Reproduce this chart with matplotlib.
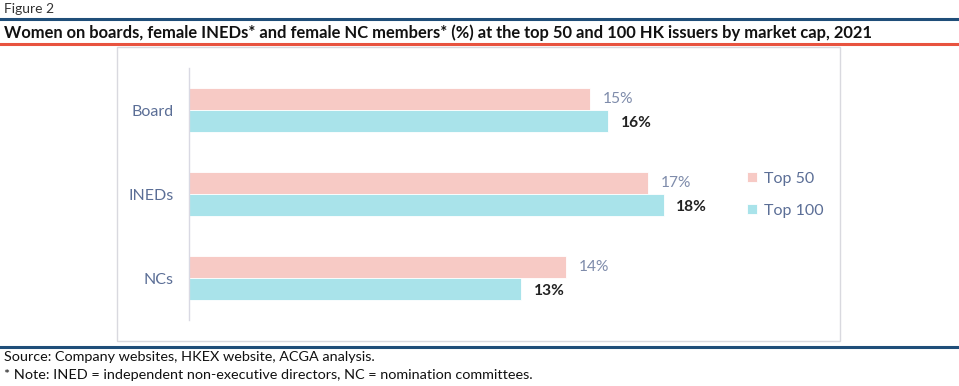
import matplotlib
matplotlib.use("Agg")
import matplotlib.pyplot as plt
from matplotlib.lines import Line2D
from matplotlib.patches import Rectangle

categories = ["Board", "INEDs", "NCs"]
top50 = [15.2, 17.4, 14.3]
top100 = [15.9, 18.0, 12.6]
series_names = ["Top 50", "Top 100"]

W, H = 959, 386
fig = plt.figure(figsize=(W / 100, H / 100), dpi=100)
plt.rcParams['font.family'] = ['Lato', 'DejaVu Sans']

def fx(x):
    return x / W

def fy(y):
    return 1 - y / H

PINK = "#f7cac5"
CYAN = "#a9e3ea"
SLATE = "#5b6e96"
NAVY = "#1f4e79"
RED = "#e8533f"

# header / footer decorations
fig.text(fx(4), fy(9), "Figure 2", fontsize=10, color="#333333", va="center", ha="left")
fig.add_artist(Line2D([0, 1], [fy(18.5), fy(18.5)], color=NAVY, lw=2.2))
fig.text(fx(4), fy(33), "Women on boards, female INEDs* and female NC members* (%) at the top 50 and 100 HK issuers by market cap, 2021",
         fontsize=11.9, fontweight="bold", color="#111111", va="center", ha="left")
fig.add_artist(Line2D([0, 1], [fy(43.5), fy(43.5)], color=RED, lw=2.2))
fig.add_artist(Rectangle((fx(117), fy(341)), fx(840 - 117), (341 - 47) / H,
                         transform=fig.transFigure, fill=False, edgecolor="#d9d9df", lw=1))
fig.add_artist(Line2D([0, 1], [fy(346.5), fy(346.5)], color=NAVY, lw=2.2))
fig.text(fx(4), fy(357), "Source: Company websites, HKEX website, ACGA analysis.", fontsize=10.4, color="#111111", va="center")
fig.text(fx(4), fy(375), "* Note: INED = independent non-executive directors, NC = nomination committees.", fontsize=10.4, color="#111111", va="center")

# axes
left, right, top, bottom = 188.5, 700, 68, 320
ax = fig.add_axes([fx(left), fy(bottom), fx(right - left), (bottom - top) / H])
k = 26.4
ax.set_xlim(0, (right - left) / k)
ax.set_ylim(len(categories) - 0.5, -0.5)

bh = 22 / 84
ys = list(range(len(categories)))
b1 = ax.barh([y - bh / 2 for y in ys], top50, height=bh, color=PINK, edgecolor="white", lw=0.6, label=series_names[0])
b2 = ax.barh([y + bh / 2 for y in ys], top100, height=bh, color=CYAN, edgecolor="white", lw=0.6, label=series_names[1])

for y, v in zip(ys, top50):
    ax.text(v + 0.48, y - bh / 2, f"{v:.0f}%", color="#7f8cab", fontsize=11.2, va="center", ha="left")
for y, v in zip(ys, top100):
    ax.text(v + 0.48, y + bh / 2 + 0.02, f"{v:.0f}%", color="#222222", fontsize=11.2, fontweight="bold", va="center", ha="left")

ax.set_yticks(ys)
ax.set_yticklabels(categories, fontsize=11.5, color=SLATE)
ax.tick_params(axis="y", length=0, pad=10.5)
ax.set_xticks([])
for s in ["top", "right", "bottom"]:
    ax.spines[s].set_visible(False)
ax.spines["left"].set_color("#d9d9e3")
ax.spines["left"].set_linewidth(1)

leg = fig.legend(handles=[b1, b2], labels=series_names, loc="upper left",
                 bbox_to_anchor=(fx(747), fy(172)), frameon=False, fontsize=11.5,
                 labelcolor=SLATE, handlelength=0.6, handleheight=0.6, handletextpad=0.45,
                 labelspacing=1.1, borderaxespad=0, borderpad=0)

fig.savefig("out.png", dpi=100)
